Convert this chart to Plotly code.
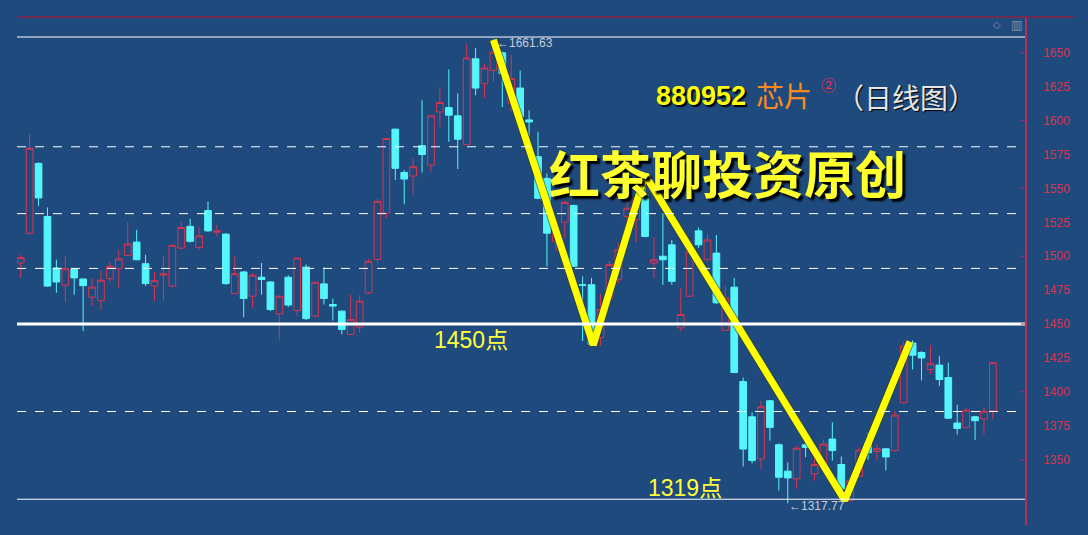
import plotly.graph_objects as go

# ---------------- data (daily OHLC) ----------------
opens = [1495, 1517, 1568.5, 1529.3, 1491.3, 1478.6, 1490.6, 1483.2, 1469.8, 1467.3,
         1483.5, 1490.8, 1500.6, 1510.4, 1494.5, 1478, 1486, 1478, 1506, 1522,
         1506.5, 1533.7, 1517.7, 1516.3, 1472.4, 1488.4, 1470.5, 1484.5, 1481, 1457.5,
         1484.5, 1460, 1492, 1455.8, 1479.6, 1464.4, 1459.5, 1442.3, 1447.8, 1473,
         1497.6, 1531.7, 1593.7, 1561.8, 1559.1, 1581.5, 1567.2, 1606.4, 1609.6, 1603.5,
         1582.4, 1645.6, 1627.2, 1637, 1650, 1612.5, 1624, 1600.5, 1573.4, 1557.4,
         1511, 1525.1, 1537.4, 1479, 1479, 1440, 1469.3, 1482.7, 1529.3, 1527,
         1545.2, 1495, 1500, 1508.4, 1447.2, 1470.5, 1518.7, 1497.4, 1502.3, 1445.3,
         1477.2, 1407.6, 1381.6, 1350.5, 1393.4, 1361, 1341.5, 1335.8, 1361, 1339.5,
         1346.8, 1365.2, 1346.4, 1320, 1337.5, 1362, 1356, 1358, 1356.7, 1392,
         1436, 1429, 1416.5, 1419.7, 1410.5, 1377, 1373.8, 1381.6, 1380, 1386]
highs = [1501, 1590, 1569, 1536, 1497.4, 1500, 1491, 1483.5, 1484, 1489.3,
         1495.7, 1504.8, 1525, 1519.5, 1501, 1488.4, 1500, 1509, 1525.6, 1527.5,
         1521.2, 1540.3, 1523, 1517, 1500, 1489, 1487.6, 1495, 1481.5, 1471,
         1486, 1499, 1494, 1481, 1491.8, 1468.8, 1460, 1471.7, 1471.3, 1498,
         1542.7, 1587, 1594, 1563.5, 1572, 1615, 1604, 1624.8, 1637.7, 1620,
         1656.6, 1653.5, 1642, 1661.63, 1651, 1648.5, 1637, 1607.6, 1591.7, 1561,
         1520, 1540.8, 1538, 1485.2, 1484, 1472, 1496.5, 1509.7, 1555, 1548,
         1550.6, 1513.9, 1531.7, 1512, 1476.6, 1508.4, 1521.2, 1516, 1515.6, 1478,
         1484, 1410.5, 1384.8, 1393.4, 1394, 1362, 1348, 1360.4, 1365.2, 1351.8,
         1365, 1377.5, 1352.3, 1336, 1359, 1370, 1361.5, 1358.5, 1386, 1437,
         1438, 1430, 1434.4, 1426.3, 1421.5, 1390.6, 1388, 1382, 1388.6, 1422]
lows = [1484, 1516, 1537, 1477.5, 1473, 1466, 1471.7, 1444.8, 1463.2, 1460.7,
        1480, 1476.6, 1500, 1497, 1478, 1466.9, 1467.3, 1477, 1505, 1510,
        1504.8, 1518, 1514.6, 1479, 1472, 1455, 1462, 1471.7, 1459.5, 1438.5,
        1462.5, 1455.8, 1453, 1455, 1464.4, 1452.6, 1442.3, 1442, 1443.6, 1472,
        1495, 1528, 1556.2, 1538.3, 1545.2, 1561.8, 1562.4, 1595.4, 1584.4, 1564.3,
        1582, 1618.6, 1616.7, 1628.5, 1610, 1606.4, 1602, 1589.2, 1542, 1492.6,
        1503.6, 1513.4, 1492, 1437.5, 1434, 1434, 1468, 1480, 1524, 1510,
        1514, 1484, 1479, 1479, 1444.8, 1470, 1506, 1496, 1465, 1445,
        1414, 1345, 1347.3, 1343, 1364, 1327.3, 1317.77, 1328.5, 1351.8, 1334.6,
        1345, 1349.3, 1325, 1319, 1337, 1350, 1349.3, 1342, 1356, 1391,
        1416.5, 1408.4, 1413.3, 1404.4, 1380, 1368.6, 1373, 1364.5, 1369, 1380]
closes = [1499, 1579.5, 1543, 1478, 1481, 1490.8, 1484, 1478.3, 1477.2, 1482.3,
          1492.6, 1498, 1509, 1497.4, 1479.8, 1482, 1487, 1508, 1521.2, 1511,
          1515, 1518.7, 1518.7, 1479.8, 1487.1, 1468.8, 1486, 1482.8, 1460.7, 1470.5,
          1464, 1498.7, 1454, 1480.8, 1468.8, 1463.2, 1446, 1453.3, 1466.9, 1496.2,
          1540.5, 1586.8, 1564.8, 1556.9, 1566, 1575, 1603.5, 1613.3, 1604, 1586.3,
          1646.1, 1624, 1638.8, 1650.5, 1634.6, 1631, 1603, 1599, 1542.7, 1517,
          1518.3, 1539.6, 1492.6, 1478.6, 1435, 1460.7, 1493.8, 1504.8, 1535.4, 1542,
          1514.6, 1497.4, 1497.4, 1481.5, 1457, 1503.6, 1508.4, 1512, 1465.6, 1469.3,
          1414.2, 1357.8, 1349.3, 1389, 1373.8, 1337, 1336.5, 1358.4, 1359, 1346.4,
          1361.5, 1356.7, 1328.5, 1334.6, 1357, 1355, 1358, 1352, 1382.8, 1433.7,
          1427, 1425, 1420.7, 1409.1, 1380.6, 1373, 1386.5, 1378.7, 1385.7, 1421.5]
days = list(range(len(closes)))

tick_values = list(range(1350, 1651, 25))
tick_labels = [str(v) for v in tick_values]
axis_marks = list(range(1350, 1651, 50))

high_value = 1661.63
low_value = 1317.77
support_level = 1450
bottom_level = 1320.8
dashed_levels = [1580.7, 1531.4, 1491.0, 1385.5]

# yellow hand-drawn zig-zag (day index, price)
zigzag_days = [53, 64.2, 70.0, 92.4, 99.7]
zigzag_prices = [1659.5, 1434.6, 1560.0, 1320.0, 1437.0]

# ---------------- styling ----------------
BG = "#1f4a7e"
RED = "#d8344f"
CYAN = "#54f6fc"
AXIS_RED = "#b8304e"
W, H = 1088, 535
ML, MR, MT, MB = 17, 63, 17, 10
PW, PH = W - ML - MR, H - MT - MB


def px(x):
    return (x - ML) / PW


def py(y):
    return (H - MB - y) / PH


fig = go.Figure()

fig.add_trace(go.Candlestick(
    x=days, open=opens, high=highs, low=lows, close=closes,
    increasing=dict(line=dict(color=RED, width=1), fillcolor=BG),
    decreasing=dict(line=dict(color=CYAN, width=1), fillcolor=CYAN),
    whiskerwidth=0, showlegend=False, hoverinfo="skip",
))

# dark edge under the yellow line, then the yellow line itself
fig.add_trace(go.Scatter(
    x=zigzag_days, y=zigzag_prices, mode="lines",
    line=dict(color="rgba(60,60,20,0.55)", width=9), showlegend=False, hoverinfo="skip",
))
fig.add_trace(go.Scatter(
    x=zigzag_days, y=zigzag_prices, mode="lines",
    line=dict(color="#ffff00", width=7), showlegend=False, hoverinfo="skip",
))

shapes = []
shapes.append(dict(type="line", xref="paper", yref="y", x0=0, x1=1,
                   y0=high_value, y1=high_value, line=dict(color="white", width=1)))
shapes.append(dict(type="line", xref="paper", yref="y", x0=0, x1=1,
                   y0=bottom_level, y1=bottom_level, line=dict(color="white", width=1)))
shapes.append(dict(type="line", xref="paper", yref="y", x0=0, x1=1,
                   y0=support_level, y1=support_level, line=dict(color="white", width=3)))
for lv in dashed_levels:
    shapes.append(dict(type="line", xref="paper", yref="y", x0=0, x1=1,
                       y0=lv, y1=lv, line=dict(color="white", width=1, dash="dash")))
shapes.append(dict(type="line", xref="paper", yref="paper", x0=0, x1=px(1073),
                   y0=1, y1=1, line=dict(color="#8c2346", width=1.5)))
for v in axis_marks:
    shapes.append(dict(type="line", xref="paper", yref="y", x0=1 - 4 / PW, x1=1,
                       y0=v, y1=v, line=dict(color=AXIS_RED, width=1)))

annotations = [
    dict(text="880952", x=px(654), y=py(96), xanchor="left", yanchor="middle",
         font=dict(family="Liberation Sans, Arial", size=27, color="#ffff00",
                   weight="bold", shadow="2px 2px 1px #000")),
    dict(text="芯片", x=px(754), y=py(95), xanchor="left", yanchor="middle",
         font=dict(family="Noto Sans CJK SC", size=28, color="#ff8a1c")),
    dict(text="②", x=px(819), y=py(85), xanchor="left", yanchor="middle",
         font=dict(family="Noto Sans CJK SC", size=15, color="#ff2a4a")),
    dict(text="（日线图）", x=px(834), y=py(97), xanchor="left", yanchor="middle",
         font=dict(family="Noto Sans CJK SC", size=28, color="#e6e6e6",
                   shadow="1px 1px 1px #000")),
    dict(text="红茶聊投资原创", x=px(727), y=py(172), xanchor="center", yanchor="middle",
         font=dict(family="Noto Sans CJK SC", size=51, color="#ffff2e", weight="bold",
                   shadow="3px 3px 2px #000")),
    dict(text="1450点", x=px(471), y=py(340), xanchor="center", yanchor="middle",
         font=dict(family="Liberation Sans, Noto Sans CJK SC", size=23, color="#ffff3c")),
    dict(text="1319点", x=px(685), y=py(488), xanchor="center", yanchor="middle",
         font=dict(family="Liberation Sans, Noto Sans CJK SC", size=23, color="#ffff3c")),
    dict(text="←1661.63", x=px(495), y=py(43), xanchor="left", yanchor="middle",
         font=dict(family="Liberation Sans, Arial", size=12, color="#c8ccd8")),
    dict(text="←1317.77", x=px(787), y=py(506), xanchor="left", yanchor="middle",
         font=dict(family="Liberation Sans, Arial", size=12, color="#c8ccd8")),
    dict(text="◇", x=px(997), y=py(25), xanchor="center", yanchor="middle",
         font=dict(family="DejaVu Sans", size=10, color="#8090a8")),
    dict(text="▥", x=px(1016), y=py(25), xanchor="center", yanchor="middle",
         font=dict(family="DejaVu Sans", size=12, color="#8090a8")),
]
for a in annotations:
    a.update(xref="paper", yref="paper", showarrow=False)

fig.update_layout(
    width=W, height=H,
    margin=dict(l=ML, r=MR, t=MT, b=MB),
    paper_bgcolor=BG, plot_bgcolor=BG,
    shapes=shapes, annotations=annotations,
    boxgap=0.25, boxgroupgap=0,
    hovermode=False,
    xaxis=dict(range=[-0.415, 112.6], showgrid=False, zeroline=False,
               showticklabels=False, rangeslider=dict(visible=False),
               showline=False, fixedrange=True),
    yaxis=dict(range=[1301.8, 1676.4], side="right", showgrid=False, zeroline=False,
               showline=True, linecolor=AXIS_RED, linewidth=1.5, fixedrange=True,
               tickvals=tick_values, ticktext=tick_labels, ticks="",
               ticklabelstandoff=14,
               tickfont=dict(family="Liberation Sans, Arial", size=12, color=RED)),
)

fig.write_html(
    "out.html",
    config={"displayModeBar": False},
    post_script="document.body.style.margin='0';document.body.style.overflow='hidden';"
                "document.body.style.background='" + BG + "';",
)
